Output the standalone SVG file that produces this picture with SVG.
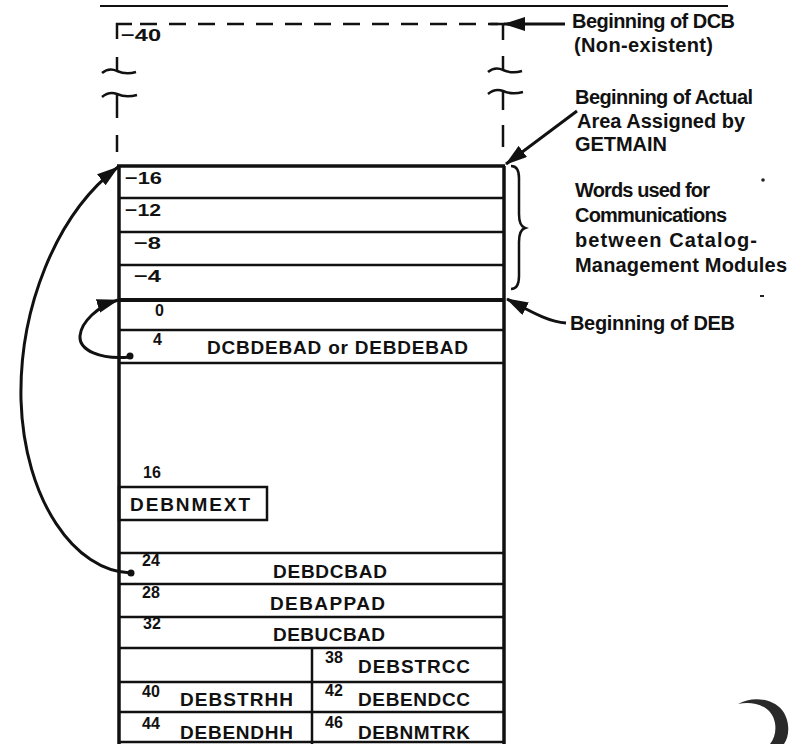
<svg xmlns="http://www.w3.org/2000/svg" width="790" height="744" viewBox="0 0 790 744">
<style>
  text { font-family: "Liberation Sans", Arial, Helvetica, sans-serif; font-weight: bold; fill: #111; }
  .lbl { font-size: 19px; }
  .num { font-size: 16px; }
  .neg { font-size: 17px; }
  .note { font-size: 20px; }
  .ln { stroke: #111; fill: none; stroke-width: 2.5; }
  .edge { stroke: #111; fill: none; stroke-width: 3.5; }
  .dash { stroke: #111; fill: none; stroke-width: 2.5; stroke-dasharray: 17 12; }
  .conn { stroke: #111; fill: none; stroke-width: 3; }
</style>
<defs>
  <marker id="ah" markerUnits="userSpaceOnUse" markerWidth="22" markerHeight="14" refX="21" refY="7" orient="auto">
    <path d="M0,0 L22,7 L0,14 z" fill="#111"/>
  </marker>
</defs>
<rect width="790" height="744" fill="#fff"/>

<!-- top rule -->
<line x1="100" y1="6" x2="728" y2="6" stroke="#111" stroke-width="2"/>

<g id="dcb-nonexistent">
  <path class="ln" d="M117,39 V24 H132"/>
  <line class="dash" x1="140" y1="24" x2="498" y2="24"/>
  <path class="ln" d="M490,24 H503 V40"/>
  <text class="neg" x="121" y="41" textLength="40" lengthAdjust="spacingAndGlyphs">−40</text>
  <path class="ln" d="M117,57 V71"/>
  <path class="ln" d="M102,73 Q109,67 117,71 Q126,75 136,72"/>
  <path class="ln" d="M102,97 Q109,91 117,94 Q126,98 137,95"/>
  <path class="ln" d="M117,95 V118"/>
  <line class="ln" x1="117" y1="135" x2="117" y2="152"/>
  <path class="ln" d="M503,56 V70"/>
  <path class="ln" d="M488,72 Q495,66 503,70 Q512,74 522,71"/>
  <path class="ln" d="M488,94 Q495,88 503,91 Q512,95 523,92"/>
  <path class="ln" d="M503,92 V110"/>
  <line class="ln" x1="503" y1="125" x2="503" y2="147"/>
</g>

<g id="getmain-area">
  <line class="edge" x1="117" y1="166" x2="505" y2="166" stroke-width="3"/>
  <line class="edge" x1="119" y1="166" x2="119" y2="744"/>
  <line class="edge" x1="504" y1="166" x2="504" y2="744"/>
  <line class="ln" x1="119" y1="198" x2="504" y2="198"/>
  <line class="ln" x1="119" y1="232" x2="504" y2="232"/>
  <line class="ln" x1="119" y1="265" x2="504" y2="265"/>
  <text class="neg" x="125" y="184" textLength="37" lengthAdjust="spacingAndGlyphs">−16</text>
  <text class="neg" x="125" y="216" textLength="36" lengthAdjust="spacingAndGlyphs">−12</text>
  <text class="neg" x="134" y="249" textLength="27" lengthAdjust="spacingAndGlyphs">−8</text>
  <text class="neg" x="134" y="282" textLength="27" lengthAdjust="spacingAndGlyphs">−4</text>
</g>

<g id="deb">
  <line x1="119" y1="300" x2="505" y2="300" stroke="#111" stroke-width="4"/>
  <line class="ln" x1="119" y1="330" x2="504" y2="330"/>
  <line class="ln" x1="119" y1="363" x2="504" y2="363"/>
  <text class="num" x="155" y="316">0</text>
  <text class="num" x="153" y="345">4</text>
  <text class="lbl" x="207" y="354" textLength="261">DCBDEBAD or DEBDEBAD</text>

  <text class="num" x="143" y="478">16</text>
  <rect x="119" y="487" width="148" height="33" fill="none" stroke="#111" stroke-width="2.5"/>
  <text class="lbl" x="130" y="511" textLength="120">DEBNMEXT</text>

  <line class="ln" x1="119" y1="553" x2="504" y2="553"/>
  <line class="ln" x1="119" y1="584" x2="504" y2="584"/>
  <line class="ln" x1="119" y1="617" x2="504" y2="617"/>
  <line class="ln" x1="119" y1="648" x2="504" y2="648"/>
  <line class="ln" x1="119" y1="682" x2="504" y2="682"/>
  <line class="ln" x1="119" y1="712" x2="504" y2="712"/>
  <line class="ln" x1="119" y1="742" x2="504" y2="742"/>
  <line class="ln" x1="312" y1="648" x2="312" y2="744"/>

  <text class="num" x="142" y="566">24</text>
  <text class="lbl" x="273" y="578" textLength="114">DEBDCBAD</text>
  <text class="num" x="142" y="598">28</text>
  <text class="lbl" x="270" y="610" textLength="115">DEBAPPAD</text>
  <text class="num" x="143" y="629">32</text>
  <text class="lbl" x="273" y="641" textLength="112">DEBUCBAD</text>
  <text class="num" x="325" y="663">38</text>
  <text class="lbl" x="358" y="673" textLength="112">DEBSTRCC</text>
  <text class="num" x="142" y="697">40</text>
  <text class="lbl" x="180" y="706" textLength="113">DEBSTRHH</text>
  <text class="num" x="325" y="696">42</text>
  <text class="lbl" x="358" y="706" textLength="112">DEBENDCC</text>
  <text class="num" x="142" y="729">44</text>
  <text class="lbl" x="180" y="739" textLength="113">DEBENDHH</text>
  <text class="num" x="325" y="728">46</text>
  <text class="lbl" x="358" y="739" textLength="112">DEBNMTRK</text>
</g>

<g id="notes">
  <text class="note" x="572" y="28" textLength="163">Beginning of DCB</text>
  <text class="note" x="574" y="52" textLength="139">(Non-existent)</text>
  <text class="note" x="575" y="104" textLength="178">Beginning of Actual</text>
  <text class="note" x="577" y="128" textLength="168">Area Assigned by</text>
  <text class="note" x="575" y="151" textLength="92">GETMAIN</text>
  <text class="note" x="575" y="197" textLength="135">Words used for</text>
  <text class="note" x="575" y="222" textLength="152">Communications</text>
  <text class="note" x="575" y="247" textLength="182">between Catalog-</text>
  <text class="note" x="575" y="272" textLength="212">Management Modules</text>
  <text class="note" x="570" y="330" textLength="165">Beginning of DEB</text>
  <path d="M511,166 Q519,166 519,178 V214 Q519,226 525,228 Q519,230 519,242 V276 Q519,289 511,289" fill="none" stroke="#111" stroke-width="2.5"/>
</g>

<g id="connectors">
  <line class="conn" x1="565" y1="24" x2="504" y2="24" marker-end="url(#ah)"/>
  <line class="conn" x1="577" y1="111" x2="506" y2="164" marker-end="url(#ah)"/>
  <path class="conn" d="M566,323 C548,322 530,311 507,299" marker-end="url(#ah)"/>
  <path class="conn" d="M130,357 C100,360 79,350 80,336 C81,322 98,306 118,300" marker-end="url(#ah)"/>
  <circle cx="130" cy="356" r="3.5" fill="#111"/>
  <path class="conn" d="M131,573 C75,572 24,500 21,400 C19,310 55,215 118,167" marker-end="url(#ah)"/>
  <circle cx="131" cy="573" r="3.5" fill="#111"/>
</g>

<!-- scan marks -->
<circle cx="763" cy="180" r="1.8" fill="#222"/>
<rect x="760" y="295" width="4" height="2" fill="#222"/>
<path d="M738,704 C752,696 772,698 782,710 C790,720 790,736 784,744 L770,744 C778,734 777,718 768,710 C760,703 748,702 738,704 Z" fill="#2a2a2a"/>
</svg>
